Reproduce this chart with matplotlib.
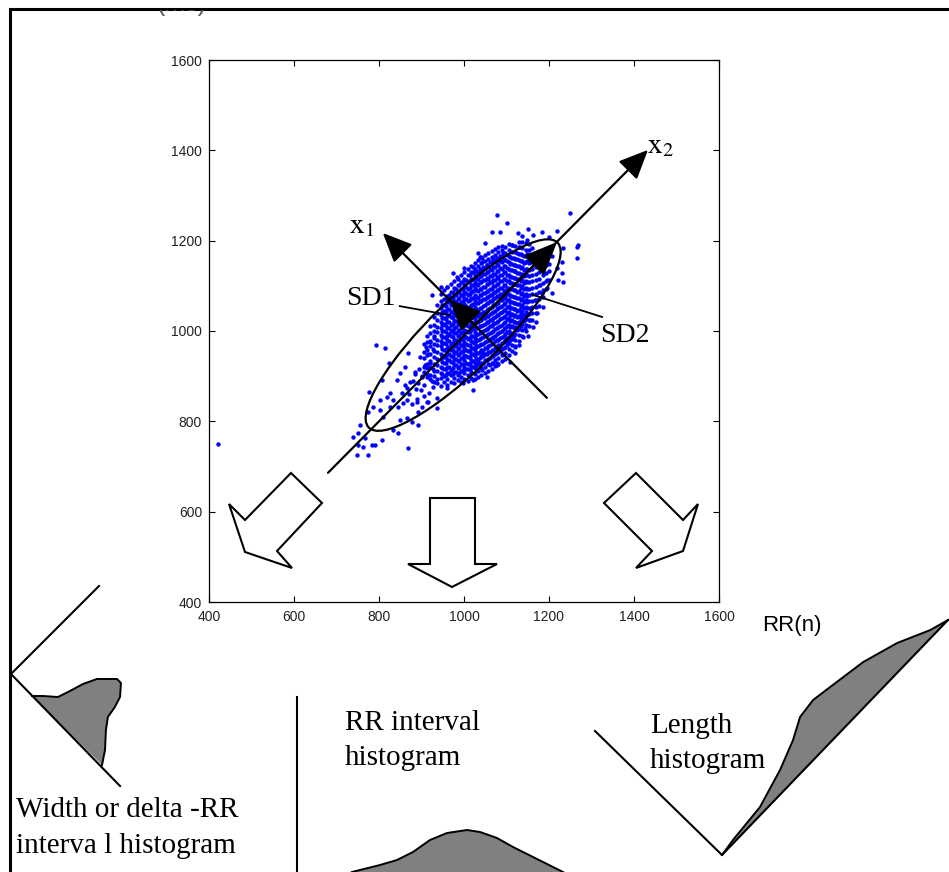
import numpy as np
import matplotlib.pyplot as plt
from matplotlib.patches import Ellipse, Polygon

plt.rcParams['font.family'] = 'Liberation Sans'
plt.rcParams['mathtext.fontset'] = 'stix'

W, H = 949, 872   # figure size in px

# ---- Poincare plot data, RR(n) vs RR(n+1) in ms ----
# sparse points of the cloud: lower-left tail
tail_pts = [
    (420, 750),
    (793, 969), (814, 962), (824, 929), (868, 951), (896, 942), (861, 920), (885, 909),
    (901, 898), (849, 907), (842, 892), (807, 892), (873, 887), (892, 885), (866, 874),
    (854, 863), (826, 863), (819, 854), (833, 847), (802, 847), (786, 832), (802, 825),
    (826, 832), (845, 832), (866, 847), (889, 843), (913, 843), (936, 830), (892, 821),
    (849, 803), (866, 807), (878, 798), (892, 792), (833, 781), (845, 774), (809, 810),
    (776, 865), (774, 821), (755, 792), (751, 774), (739, 765), (767, 763), (784, 748),
    (807, 759), (762, 743), (791, 748), (748, 725), (774, 725), (868, 741), (751, 748),
    (905, 880), (912, 905), (918, 862), (925, 890), (921, 930), (928, 915), (909, 925),
    (898, 870), (915, 948), (926, 960), (902, 901), (888, 872), (880, 890), (893, 915),
    (928, 875), (915, 842), (905, 855), (870, 860), (878, 838), (862, 880), (890, 850),
    (900, 832), (857, 840), (884, 905), (920, 975), (930, 990), (910, 965),
]
# sparse points around the dense core
upper_pts = [
    (1078, 1257), (1101, 1239), (1066, 1219), (1085, 1219), (1127, 1217), (1151, 1226),
    (1162, 1213), (1184, 1219), (1200, 1208), (1219, 1221), (1249, 1261), (1268, 1190),
    (1266, 1162), (1137, 1210), (1148, 1201), (1113, 1190), (1092, 1173), (1132, 1186),
    (1049, 1195), (1033, 1173), (1042, 1162), (1068, 1162), (1231, 1153), (1219, 1140),
    (1231, 1128), (1233, 1108), (1221, 1113), (1195, 1113), (1179, 1102), (1195, 1095),
    (1207, 1084), (1184, 1084), (1167, 1069), (1186, 1053), (1172, 1040), (1155, 1024),
    (1162, 1009), (1144, 1007), (1139, 987), (1120, 965), (1108, 931), (1078, 929),
    (1054, 898), (1021, 892), (1021, 869), (998, 885), (960, 874), (936, 852),
    (1038, 1164), (1054, 1146), (1233, 1184), (1266, 1186), (1207, 1165),
    (1068, 929), (1078, 925), (1061, 925), (1042, 914), (1033, 931), (1045, 951),
    (1085, 962), (1101, 976), (1115, 987),
    (960, 1097), (925, 1080), (984, 1120), (1021, 1142), (1042, 1153), (945, 1098),
    (1000, 1140), (975, 1128), (1120, 952), (1130, 968), (1150, 990), (1170, 1020),
]
# dense core: RR(n) column -> RR(n+1) values
core_x = [905, 913, 921, 929, 937, 945, 953, 961, 969, 977, 985, 993, 1001, 1009, 1017,
          1025, 1033, 1041, 1049, 1057, 1065, 1073, 1081, 1089, 1097, 1105, 1113, 1121,
          1129, 1137, 1145, 1153, 1161, 1169, 1177, 1185, 1193, 1201]
core_y = [
    [910, 921, 940, 953, 971],
    [899, 917, 928, 946, 957, 975, 988],
    [893, 903, 921, 934, 948, 966, 977, 995, 1010],
    [886, 901, 911, 927, 943, 955, 972, 984, 999, 1013, 1031],
    [884, 894, 912, 925, 937, 954, 968, 980, 997, 1008, 1025, 1040, 1058],
    [879, 897, 906, 921, 939, 948, 966, 977, 992, 1006, 1021, 1035, 1050, 1066, 1081],
    [886, 900, 916, 930, 943, 957, 973, 986, 999, 1015, 1028, 1044, 1057, 1071, 1090],
    [880, 893, 908, 921, 936, 950, 962, 979, 990, 1007, 1020, 1034, 1049, 1064, 1078, 1097],
    [887, 903, 914, 931, 944, 957, 972, 988, 1000, 1013, 1030, 1041, 1058, 1073, 1086, 1103],
    [884, 896, 909, 925, 937, 952, 966, 979, 995, 1006, 1023, 1036, 1049, 1066, 1080, 1095, 1110],
    [891, 903, 919, 933, 946, 961, 973, 989, 1001, 1016, 1030, 1043, 1058, 1071, 1087, 1101, 1116],
    [887, 899, 912, 927, 940, 954, 968, 982, 995, 1010, 1023, 1038, 1051, 1065, 1080, 1094, 1108, 1124],
    [893, 906, 920, 935, 947, 962, 976, 989, 1003, 1017, 1031, 1044, 1059, 1072, 1087, 1101, 1116, 1131],
    [890, 902, 915, 928, 942, 955, 970, 983, 997, 1010, 1025, 1037, 1052, 1066, 1079, 1094, 1108,
     1123, 1138],
    [896, 909, 922, 936, 949, 963, 977, 990, 1004, 1018, 1031, 1045, 1058, 1073, 1086, 1101, 1115,
     1130, 1145],
    [893, 905, 918, 930, 944, 958, 971, 985, 998, 1012, 1026, 1039, 1053, 1066, 1080, 1095, 1108,
     1123, 1137, 1151],
    [899, 912, 926, 939, 952, 966, 979, 993, 1006, 1020, 1034, 1047, 1061, 1074, 1089, 1102, 1116,
     1131, 1144, 1157],
    [903, 917, 930, 944, 957, 971, 984, 998, 1011, 1025, 1038, 1052, 1066, 1079, 1093, 1108, 1121,
     1136, 1150, 1163],
    [908, 921, 935, 948, 962, 975, 989, 1002, 1016, 1029, 1043, 1057, 1070, 1084, 1098, 1112, 1126,
     1140, 1154, 1168],
    [912, 926, 939, 953, 966, 980, 993, 1007, 1020, 1034, 1048, 1061, 1075, 1089, 1103, 1116, 1131,
     1145, 1159, 1172],
    [916, 930, 944, 957, 971, 984, 998, 1012, 1025, 1039, 1053, 1066, 1080, 1094, 1108, 1121, 1135,
     1150, 1164, 1177],
    [922, 936, 949, 963, 977, 990, 1004, 1017, 1031, 1045, 1058, 1072, 1086, 1099, 1113, 1127, 1141,
     1155, 1169, 1181],
    [927, 940, 954, 968, 981, 995, 1009, 1022, 1036, 1050, 1063, 1077, 1091, 1104, 1118, 1132, 1146,
     1160, 1174, 1186],
    [933, 946, 960, 973, 987, 1001, 1014, 1028, 1042, 1055, 1069, 1083, 1096, 1110, 1124, 1138, 1152,
     1166, 1180, 1189],
    [938, 952, 965, 979, 993, 1006, 1020, 1034, 1047, 1061, 1075, 1088, 1102, 1116, 1130, 1144, 1158,
     1172, 1186],
    [946, 960, 973, 987, 1000, 1014, 1028, 1041, 1055, 1069, 1082, 1096, 1110, 1124, 1138, 1152, 1166,
     1180, 1193],
    [956, 969, 983, 996, 1010, 1024, 1037, 1051, 1065, 1078, 1092, 1106, 1120, 1134, 1148, 1162, 1176,
     1190],
    [967, 980, 994, 1008, 1021, 1035, 1049, 1062, 1076, 1090, 1104, 1118, 1132, 1146, 1160, 1174, 1188],
    [978, 992, 1005, 1019, 1033, 1046, 1060, 1074, 1088, 1101, 1115, 1129, 1143, 1157, 1171, 1185, 1197],
    [989, 1003, 1016, 1030, 1044, 1058, 1071, 1085, 1099, 1113, 1127, 1141, 1155, 1169, 1183, 1196],
    [999, 1013, 1027, 1041, 1054, 1068, 1082, 1096, 1110, 1124, 1138, 1152, 1166, 1180, 1195],
    [1010, 1024, 1038, 1052, 1066, 1080, 1094, 1108, 1122, 1136, 1150, 1164, 1179, 1193],
    [1025, 1039, 1053, 1067, 1081, 1095, 1110, 1124, 1138, 1153, 1168, 1183],
    [1040, 1054, 1068, 1083, 1097, 1112, 1126, 1141, 1156, 1172],
    [1056, 1071, 1086, 1101, 1116, 1131, 1147, 1164],
    [1075, 1091, 1107, 1123, 1140, 1158],
    [1094, 1111, 1129, 1147],
    [1114, 1132, 1148],
]
# densest middle of the core (between the columns above)
core2_x = [949, 957, 965, 973, 981, 989, 997, 1005, 1013, 1021, 1029, 1037, 1045, 1053,
           1061, 1069, 1077, 1085, 1093, 1101, 1109, 1117, 1125, 1133, 1141, 1149]
core2_y = [
    [905, 918, 931, 945, 960, 973, 986, 1001, 1014, 1029, 1043, 1058],
    [902, 915, 929, 943, 957, 971, 985, 997, 1012, 1026, 1041, 1056, 1071],
    [906, 921, 935, 949, 964, 978, 993, 1006, 1020, 1035, 1049, 1064, 1079],
    [904, 917, 931, 945, 959, 973, 987, 1002, 1015, 1029, 1043, 1057, 1072, 1087],
    [910, 925, 939, 953, 967, 981, 996, 1009, 1023, 1037, 1051, 1065, 1079, 1094],
    [906, 920, 934, 948, 962, 976, 990, 1003, 1017, 1031, 1045, 1059, 1073, 1087, 1101],
    [913, 927, 941, 955, 969, 983, 997, 1011, 1025, 1038, 1052, 1066, 1080, 1094, 1108],
    [916, 930, 944, 958, 972, 986, 1000, 1014, 1028, 1042, 1056, 1070, 1084, 1098, 1113],
    [915, 929, 943, 956, 970, 984, 998, 1012, 1026, 1040, 1054, 1068, 1082, 1096, 1110, 1124],
    [920, 934, 948, 962, 976, 990, 1004, 1018, 1032, 1046, 1060, 1074, 1088, 1102, 1116, 1130],
    [923, 937, 951, 964, 978, 992, 1006, 1020, 1034, 1048, 1062, 1076, 1090, 1104, 1118, 1133],
    [926, 940, 954, 968, 982, 996, 1010, 1024, 1038, 1052, 1066, 1080, 1094, 1108, 1122, 1137],
    [930, 944, 958, 972, 986, 1000, 1014, 1028, 1042, 1056, 1070, 1084, 1098, 1112, 1126, 1141],
    [935, 949, 963, 977, 991, 1005, 1019, 1033, 1047, 1061, 1075, 1089, 1103, 1117, 1131, 1146],
    [940, 954, 968, 982, 996, 1010, 1024, 1038, 1052, 1066, 1080, 1094, 1108, 1122, 1137, 1152],
    [945, 959, 973, 987, 1001, 1015, 1029, 1043, 1057, 1071, 1085, 1099, 1113, 1127, 1142, 1157],
    [951, 965, 979, 993, 1007, 1021, 1035, 1049, 1063, 1077, 1091, 1105, 1119, 1133, 1148, 1162],
    [956, 970, 984, 998, 1012, 1026, 1040, 1054, 1068, 1082, 1096, 1110, 1124, 1139, 1154, 1167],
    [962, 976, 990, 1004, 1018, 1032, 1046, 1060, 1074, 1088, 1102, 1116, 1130, 1145, 1160],
    [970, 984, 998, 1012, 1026, 1040, 1054, 1068, 1082, 1096, 1110, 1124, 1139, 1154, 1168],
    [980, 994, 1008, 1022, 1036, 1050, 1064, 1078, 1092, 1106, 1120, 1134, 1149, 1164],
    [992, 1006, 1020, 1034, 1048, 1062, 1076, 1090, 1104, 1118, 1132, 1147, 1162],
    [1003, 1017, 1031, 1045, 1059, 1073, 1087, 1101, 1115, 1129, 1144, 1159, 1173],
    [1012, 1026, 1040, 1054, 1068, 1082, 1096, 1110, 1124, 1139, 1154, 1170],
    [1022, 1036, 1050, 1064, 1078, 1092, 1106, 1121, 1136, 1151, 1166],
    [1036, 1050, 1064, 1078, 1093, 1108, 1123, 1138, 1154, 1170],
]

ticks = [400, 600, 800, 1000, 1200, 1400, 1600]

# SD ellipse and principal axes (data units)
ell_center = (998, 991)
ell_len, ell_wid, ell_angle = 604, 160, 42.4
x1_axis = ((1195, 852), (809, 1217))
x2_axis = ((680, 686), (1433, 1401))
sd1_arrow = ((1026, 1013), (967, 1069))
sd2_arrow = ((1026, 1013), (1219, 1197))
sd1_leader = ((849, 967), (1055, 1035))
sd2_leader = ((1325, 1162), (1031, 1080))

# ---- projected histograms (profile along baseline, px) ----
delta_pos = [0, 7.8, 19.2, 23.5, 27.9, 34.3, 48.6, 54.2, 63.4, 66.8, 68.8, 76.5, 89.9, 98.3]
delta_cnt = [0, 7.7, 17.5, 30.2, 44.4, 57.7, 71.8, 71.7, 61.1, 50.1, 38.3, 27.7, 12.8, 0]
rr_pos = [0, 12, 40, 57, 73, 90, 107, 127, 140, 157, 173, 193, 213, 223, 235]
rr_cnt = [6, 13, 20, 25, 33, 45, 52, 55, 53, 47, 38, 28, 18, 13, 6]
len_pos = [0, 18.4, 60.9, 101.5, 132.1, 153.6, 174.9, 195.9, 236.9, 274.2, 306.3, 326]
len_cnt = [0, 2.5, 5.9, 17.1, 28.5, 39.4, 41.8, 38.5, 32.0, 20.7, 5.9, 0]

# block arrows (figure px)
left_arrow = [(291, 473), (322, 503), (277, 551), (292, 568), (245, 552), (229, 504), (245, 520)]
mid_arrow = [(430, 498), (475, 498), (475, 564), (497, 564), (452, 587), (408, 564), (430, 564)]
right_arrow = [(636, 473), (604, 503), (652, 551), (636, 568), (683, 551), (698, 504), (683, 520)]


def along(A, B, pos, cnt):
    # place a profile on the baseline A->B, heights to the left of the direction
    A = np.array(A, float)
    B = np.array(B, float)
    u = (B - A) / np.hypot(*(B - A))
    v = np.array([u[1], -u[0]])
    pos = np.asarray(pos, float)[:, None]
    cnt = np.asarray(cnt, float)[:, None]
    return A + pos * u + cnt * v


def columns(xs, yss):
    x = np.concatenate([[c] * len(ys) for c, ys in zip(xs, yss)])
    return x, np.concatenate(yss)


fig = plt.figure(figsize=(W / 100, H / 100), dpi=100)

# ---- scatter axes ----
ax = fig.add_axes([209 / W, (H - 602) / H, 510 / W, 542 / H])
sparse = np.array(tail_pts + upper_pts, float)
c1x, c1y = columns(core_x, core_y)
c2x, c2y = columns(core2_x, core2_y)
rr_n = np.concatenate([sparse[:, 0], c1x, c2x])
rr_n1 = np.concatenate([sparse[:, 1], c1y, c2y])
ax.scatter(rr_n, rr_n1, s=10, c='#0000ff', linewidths=0, zorder=2)
ax.set_xlim(400, 1600)
ax.set_ylim(400, 1600)
ax.set_xticks(ticks)
ax.set_yticks(ticks)
ax.tick_params(direction='in', top=True, right=True, length=4.5, width=0.8,
               labelsize=10, labelcolor='#222222')
ax.tick_params(axis='x', pad=6)
ax.tick_params(axis='y', pad=5)
for sp in ax.spines.values():
    sp.set_linewidth(0.9)

ax.add_patch(Ellipse(ell_center, ell_len, ell_wid, angle=ell_angle, fill=False,
                     ec='black', lw=1.6, zorder=3))


def arrow(a, start, tip, hl, hw, lw=1.6):
    a.annotate('', xy=tip, xytext=start,
               arrowprops=dict(arrowstyle='-|>,head_length=%s,head_width=%s' % (hl, hw),
                               mutation_scale=20, lw=lw, color='black',
                               shrinkA=0, shrinkB=0), zorder=4)


arrow(ax, x2_axis[0], x2_axis[1], 0.9, 0.4)
arrow(ax, x1_axis[0], x1_axis[1], 0.9, 0.4)
arrow(ax, sd2_arrow[0], sd2_arrow[1], 1.05, 0.45)
arrow(ax, sd1_arrow[0], sd1_arrow[1], 0.95, 0.45)
ax.plot(*sd1_leader, color='black', lw=1.3, zorder=4)
ax.plot(*sd2_leader, color='black', lw=1.3, zorder=4)

serif = 'Liberation Serif'
ax.text(838, 1073, 'SD1', ha='right', va='center', family=serif, fontsize=20, zorder=5)
ax.text(1320, 991, 'SD2', ha='left', va='center', family=serif, fontsize=20, zorder=5)
ax.text(760, 1234, r'$\mathrm{x}_1$', ha='center', va='center', fontsize=21, zorder=5)
ax.text(1461, 1412, r'$\mathrm{x}_2$', ha='center', va='center', fontsize=21, zorder=5)

# ---- overlay in figure pixels ----
ov = fig.add_axes([0, 0, 1, 1])
ov.set_xlim(0, W)
ov.set_ylim(H, 0)
ov.axis('off')
ov.patch.set_alpha(0)

# frame
ov.plot([10, 10, W], [H, 9, 9], color='black', lw=2.2, solid_joinstyle='miter')

for shape in (left_arrow, mid_arrow, right_arrow):
    ov.add_patch(Polygon(shape, closed=True, fill=False, ec='black', lw=1.5))

ov.text(762, 625, 'RR(n)', ha='left', va='center', fontsize=16)

# width / delta-RR histogram
ov.plot([99, 11, 120], [586, 674, 786], color='black', lw=1.5)
# RR interval histogram
ov.plot([297, 297], [697, H], color='black', lw=1.5)
# length histogram
ov.plot([595, 722, 948], [731, 855, 620], color='black', lw=1.5)

hists = [((32, 696), (102, 765), delta_pos, delta_cnt),
         ((340, 885), (575, 885), rr_pos, rr_cnt),
         ((722, 855), (948, 620), len_pos, len_cnt)]
for A, B, pos, cnt in hists:
    curve = along(A, B, pos, cnt)
    base = along(A, B, pos, np.zeros(len(cnt)))
    poly = np.vstack([curve, base[::-1]])
    ov.add_patch(Polygon(poly, closed=True, fc='#808080', ec='none'))
    ov.plot(curve[:, 0], curve[:, 1], color='black', lw=1.4)

ov.text(16, 817, 'Width or delta -RR', ha='left', va='baseline', family=serif, fontsize=21)
ov.text(16, 853, 'interva l histogram', ha='left', va='baseline', family=serif, fontsize=21)
ov.text(345, 730, 'RR interval', ha='left', va='baseline', family=serif, fontsize=21)
ov.text(345, 765, 'histogram', ha='left', va='baseline', family=serif, fontsize=21)
ov.text(650, 733, 'Length', ha='left', va='baseline', family=serif, fontsize=21)
ov.text(650, 768, 'histogram', ha='left', va='baseline', family=serif, fontsize=21)

# y label that is cut off at the top edge: only its lowest part shows
cut = fig.add_axes([130 / W, (H - 16) / H, 100 / W, 6 / H])
cut.axis('off')
t = cut.text(0.52, 0.8, '(ms)', ha='center', va='baseline', fontsize=18,
             color='#555555', transform=cut.transAxes)
t.set_clip_box(cut.bbox)
t.set_clip_on(True)

fig.savefig('out.png', dpi=100)
